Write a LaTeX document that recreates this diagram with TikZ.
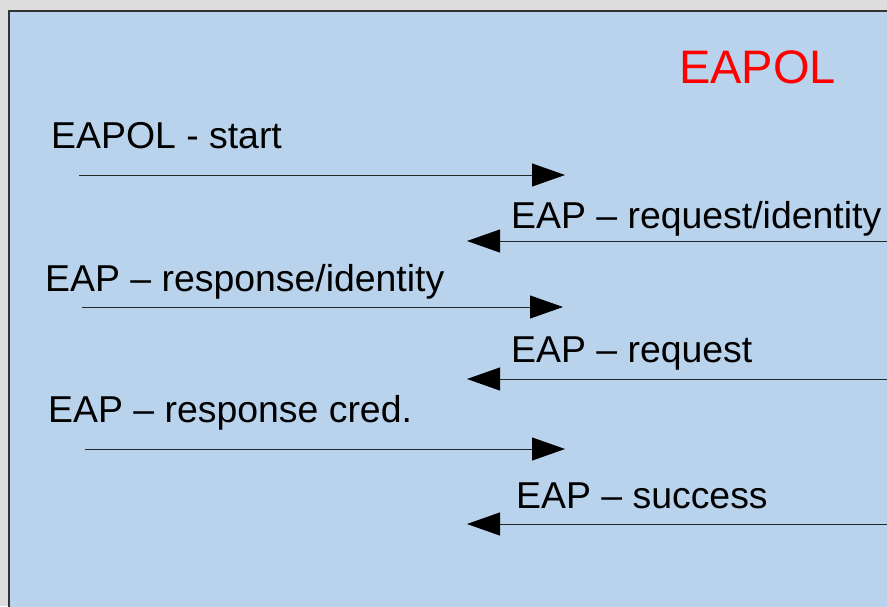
\documentclass[tikz,border=0pt]{standalone}
\usepackage{fontspec}
\setmainfont{Liberation Sans}
\usetikzlibrary{arrows.meta}
\definecolor{bgGray}{HTML}{DDDDDD}
\definecolor{boxBlue}{HTML}{B9D3EC}
\definecolor{edgeDark}{HTML}{333333}
\tikzset{
  msg/.style={anchor=base west, inner sep=0pt, font=\fontsize{37.4}{41}\selectfont, text=black},
  flow/.style={draw=black!85, line width=1pt, -{Triangle[length=33pt,width=23pt,color=black]}},
}
\begin{document}
\begin{tikzpicture}[x=1pt,y=-1pt]
\useasboundingbox (0,0) rectangle (887,606);
\fill[bgGray] (0,0) rectangle (887,606);
\filldraw[fill=boxBlue, draw=edgeDark, line width=2pt] (9,10.5) rectangle (900,620);
\node[anchor=base west, inner sep=0pt, font=\fontsize{47}{52}\selectfont, text=red] (title) at (679,83) {EAPOL};
\node[msg] (t1) at (51,148) {EAPOL - start};
\node[msg] (t2) at (511,228) {EAP – request/identity};
\node[msg] (t3) at (45,291) {EAP – response/identity};
\node[msg] (t4) at (511,362) {EAP – request};
\node[msg] (t5) at (48,422) {EAP – response cred.};
\node[msg] (t6) at (516,508) {EAP – success};
\coordinate (a1s) at (79,175);  \coordinate (a1e) at (565,175);
\coordinate (a2s) at (890,241); \coordinate (a2e) at (467,241);
\coordinate (a3s) at (82,307);  \coordinate (a3e) at (563,307);
\coordinate (a4s) at (890,379); \coordinate (a4e) at (467,379);
\coordinate (a5s) at (85,449);  \coordinate (a5e) at (565,449);
\coordinate (a6s) at (890,524); \coordinate (a6e) at (467,524);
\draw[flow] (a1s) -- (a1e);
\draw[flow] (a2s) -- (a2e);
\draw[flow] (a3s) -- (a3e);
\draw[flow] (a4s) -- (a4e);
\draw[flow] (a5s) -- (a5e);
\draw[flow] (a6s) -- (a6e);
\end{tikzpicture}
\end{document}
